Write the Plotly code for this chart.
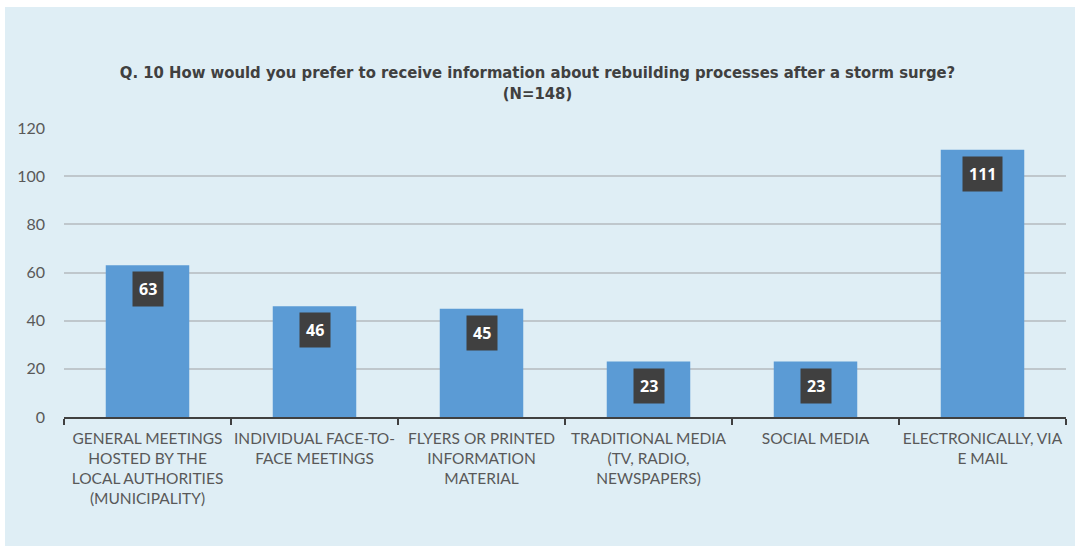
import plotly.graph_objects as go

categories = [
    "GENERAL MEETINGS<br>HOSTED BY THE<br>LOCAL AUTHORITIES<br>(MUNICIPALITY)",
    "INDIVIDUAL FACE-TO-<br>FACE MEETINGS",
    "FLYERS OR PRINTED<br>INFORMATION<br>MATERIAL",
    "TRADITIONAL MEDIA<br>(TV, RADIO,<br>NEWSPAPERS)",
    "SOCIAL MEDIA",
    "ELECTRONICALLY, VIA<br>E MAIL",
]
responses = [63, 46, 45, 23, 23, 111]
y_ticks = [0, 20, 40, 60, 80, 100, 120]

W, H = 1075, 546
ML, MR, MT, MB = 64, 9, 128, 129
PANEL = "#DFEEF5"

fig = go.Figure(
    go.Bar(
        x=categories,
        y=responses,
        marker=dict(color="#5B9BD5", line=dict(width=0)),
        width=0.5,
        hoverinfo="skip",
    )
)

# dark value boxes just below each bar top
for cat, val in zip(categories, responses):
    fig.add_annotation(
        x=cat, y=val, xref="x", yref="y",
        text=f"<b>{val}</b>",
        showarrow=False,
        yanchor="top",
        yshift=-6,
        bgcolor="#404040",
        borderpad=6,
        font=dict(family="Open Sans, sans-serif", size=16, color="white"),
    )

# white strips at top and left outside the light-blue panel
pw = W - ML - MR
ph = H - MT - MB
fig.add_shape(type="rect", xref="paper", yref="paper", layer="below",
              x0=-ML / pw, x1=(W - ML) / pw, y0=1 + (MT - 7) / ph, y1=1 + MT / ph,
              fillcolor="white", line=dict(width=0))
fig.add_shape(type="rect", xref="paper", yref="paper", layer="below",
              x0=-ML / pw, x1=-(ML - 5) / pw, y0=-MB / ph, y1=1 + MT / ph,
              fillcolor="white", line=dict(width=0))

fig.update_layout(
    width=W, height=H,
    margin=dict(l=ML, r=MR, t=MT, b=MB),
    paper_bgcolor=PANEL,
    plot_bgcolor=PANEL,
    showlegend=False,
    bargap=0.5,
    title=dict(
        text="<b>Q. 10 How would you prefer to receive information about rebuilding processes after a storm surge?</b><br><b>(N=148)</b>",
        x=0.5, xanchor="center",
        y=1 - 78 / H, yanchor="top",
        font=dict(family="DejaVu Sans Condensed, DejaVu Sans, sans-serif", size=16.5, color="#404040"),
    ),
    xaxis=dict(
        type="category",
        showgrid=False,
        showline=True, linecolor="#404040", linewidth=2,
        ticks="outside", tickson="boundaries", ticklen=6, tickwidth=2, tickcolor="#404040",
        tickfont=dict(family="Lato, Open Sans, sans-serif", size=15.5, color="#595959"),
        tickangle=0,
        ticklabelstandoff=6,
        fixedrange=True,
    ),
    yaxis=dict(
        range=[0, 120],
        tickvals=y_ticks,
        showgrid=True, gridcolor="#BFC7CC", gridwidth=2,
        zeroline=False,
        showline=False,
        ticks="", ticklabelstandoff=18,
        tickfont=dict(family="Lato, Open Sans, sans-serif", size=16, color="#595959"),
        fixedrange=True,
    ),
)

fig.write_html("out.html")
